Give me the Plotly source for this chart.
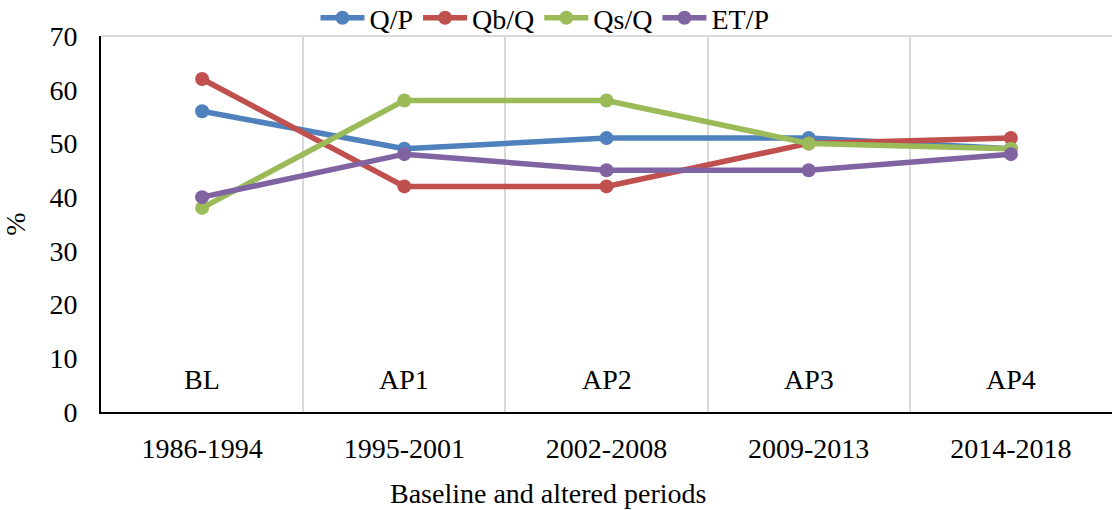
import plotly.graph_objects as go

periods = ["1986-1994", "1995-2001", "2002-2008", "2009-2013", "2014-2018"]
period_codes = ["BL", "AP1", "AP2", "AP3", "AP4"]
q_p = [56, 49, 51, 51, 49]
qb_q = [62, 42, 42, 50, 51]
qs_q = [38, 58, 58, 50, 49]
et_p = [40, 48, 45, 45, 48]

series = [
    ("Q/P", q_p, "#4F81BD"),
    ("Qb/Q", qb_q, "#C0504D"),
    ("Qs/Q", qs_q, "#9BBB59"),
    ("ET/P", et_p, "#8064A2"),
]

FONT = "Liberation Serif"
FS = 28
fig = go.Figure()
for name, vals, col in series:
    fig.add_trace(go.Scatter(
        x=periods, y=vals, name=name, mode="lines+markers",
        line=dict(color=col, width=5.5),
        marker=dict(color=col, size=14),
    ))

for p, c in zip(periods, period_codes):
    fig.add_annotation(x=p, y=6, xref="x", yref="y", text=c, showarrow=False,
                       font=dict(family=FONT, size=FS, color="#000000"))

fig.add_annotation(x=(548 - 101) / 1011, y=-(493 - 412) / 376, xref="paper", yref="paper",
                   yanchor="middle", text="Baseline and altered periods",
                   showarrow=False, font=dict(family=FONT, size=FS, color="#000000"))

fig.update_layout(
    width=1112, height=510,
    margin=dict(l=101, r=0, t=36, b=98, autoexpand=False),
    paper_bgcolor="white", plot_bgcolor="white",
    font=dict(family=FONT, size=FS, color="#000000"),
    showlegend=True,
    legend=dict(orientation="h", x=(545 - 101) / 1011, xanchor="center",
                y=1 + 18 / 376, yanchor="middle",
                font=dict(family=FONT, size=FS), itemwidth=44, tracegroupgap=0,
                bgcolor="rgba(0,0,0,0)"),
    xaxis=dict(type="category", tickson="boundaries", showgrid=True, gridcolor="#D9D9D9",
               gridwidth=2, showline=True, linecolor="#000000", linewidth=2,
               ticks="", ticklabelstandoff=10, tickfont=dict(family=FONT, size=FS),
               range=[-0.5, 4.5]),
    yaxis=dict(range=[0, 70], dtick=10, showgrid=False, showline=True, linecolor="#000000",
               linewidth=2, ticks="", ticklabelstandoff=16, tickfont=dict(family=FONT, size=FS),
               title=dict(text="%", font=dict(family=FONT, size=FS), standoff=16), zeroline=False),
    shapes=[dict(type="line", xref="paper", yref="paper", x0=0, x1=1, y0=1, y1=1,
                 line=dict(color="#D9D9D9", width=2))],
)

fig.write_html("out.html")
